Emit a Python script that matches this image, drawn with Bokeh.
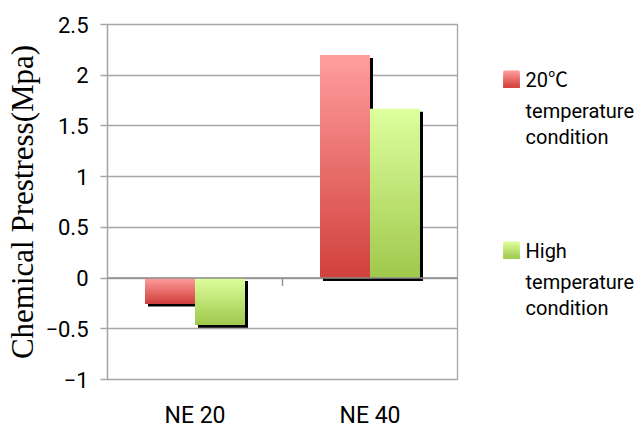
from bokeh.plotting import figure
from bokeh.layouts import row
from bokeh.models import ColumnDataSource, FixedTicker, Span
from bokeh.core.properties import value
from bokeh.embed import file_html
from bokeh.resources import INLINE

# --- data -------------------------------------------------------------
categories = ["NE 20", "NE 40"]
series_names = ["20℃\ntemperature\ncondition", "High\ntemperature\ncondition"]
prestress_20c = [-0.25, 2.2]
prestress_high = [-0.46, 1.67]
y_ticks = [-1, -0.5, 0, 0.5, 1, 1.5, 2, 2.5]
y_tick_labels = ["−1", "−0.5", "0", "0.5", "1", "1.5", "2", "2.5"]

# --- styling ----------------------------------------------------------
SANS = "Roboto, Noto Sans CJK JP, sans-serif"
SERIF = "Liberation Serif, DejaVu Serif, serif"
GRID = "#a6a6a6"
RED = ("#ff9e9e", "#d1403c")     # light top -> dark bottom
GREEN = ("#ddff9e", "#a0c84c")
LEFT, TOP, BOTTOM = 107, 24, 49
FRAME_W, FRAME_H = 350, 355
MAIN_W = LEFT + FRAME_W + 13
LEG_W = 643 - MAIN_W
BAR_W = 1 / 3.5                  # 150 % gap width
SHADOW_PX = 3
N_SLICES = 80

y_lo, y_hi = y_ticks[0], y_ticks[-1]
px_x = FRAME_W / len(categories)
px_y = FRAME_H / (y_hi - y_lo)


def lerp_hex(c0, c1, t):
    a = [int(c0[i:i + 2], 16) for i in (1, 3, 5)]
    b = [int(c1[i:i + 2], 16) for i in (1, 3, 5)]
    return "#%02x%02x%02x" % tuple(round(x + (y - x) * t) for x, y in zip(a, b))


def gradient_slices(left, right, top, bottom, colors, n):
    # each band runs from its own top down to the bar's bottom, drawn
    # light-to-dark so the later bands cover the lower part without seams
    out = dict(left=[], right=[], top=[], bottom=[], color=[])
    for j in range(n):
        out["left"].append(left)
        out["right"].append(right)
        out["top"].append(top - (top - bottom) * j / n)
        out["bottom"].append(bottom)
        out["color"].append(lerp_hex(colors[0], colors[1], (j + 0.5) / n))
    return out


p = figure(frame_width=FRAME_W, frame_height=FRAME_H,
           x_range=(0, len(categories)), y_range=(y_lo, y_hi),
           output_backend="svg", toolbar_location=None,
           min_border_left=LEFT, min_border_right=MAIN_W - LEFT - FRAME_W,
           min_border_top=TOP, min_border_bottom=BOTTOM)
p.background_fill_color = "white"
p.border_fill_color = "white"
p.outline_line_color = GRID
p.outline_line_width = 1.3

# zero line
p.add_layout(Span(location=0, dimension="width", line_color="#8c8c8c", line_width=1.5))

shadow = dict(left=[], right=[], top=[], bottom=[])
slices = dict(left=[], right=[], top=[], bottom=[], color=[])
for vals, cols, offset in ((prestress_20c, RED, -BAR_W),
                           (prestress_high, GREEN, 0.0)):
    for i, v in enumerate(vals):
        left = i + 0.5 + offset
        right = left + BAR_W
        top, bottom = max(v, 0), min(v, 0)
        shadow["left"].append(left + SHADOW_PX / px_x)
        shadow["right"].append(right + SHADOW_PX / px_x)
        shadow["top"].append(top - SHADOW_PX / px_y)
        shadow["bottom"].append(bottom - SHADOW_PX / px_y)
        g = gradient_slices(left, right, top, bottom, cols, N_SLICES)
        for k in slices:
            slices[k].extend(g[k])

p.quad(left="left", right="right", top="top", bottom="bottom",
       source=ColumnDataSource(shadow), fill_color="black", line_color=None)
p.quad(left="left", right="right", top="top", bottom="bottom",
       source=ColumnDataSource(slices), fill_color="color", line_color=None)

# separator tick between the categories, hanging below the zero line
sep = list(range(1, len(categories)))
p.segment(x0=sep, x1=sep, y0=[0] * len(sep), y1=[-8 / px_y] * len(sep),
          line_color="#8c8c8c", line_width=1.3)

# y axis
p.yaxis.ticker = FixedTicker(ticks=y_ticks)
p.yaxis.major_label_overrides = dict(zip(y_ticks, y_tick_labels))
p.yaxis.axis_line_color = GRID
p.yaxis.axis_line_width = 1.3
p.yaxis.major_tick_line_color = GRID
p.yaxis.major_tick_line_width = 1.3
p.yaxis.major_tick_out = 7
p.yaxis.major_tick_in = 0
p.yaxis.minor_tick_line_color = None
p.yaxis.major_label_text_font = SANS
p.yaxis.major_label_text_font_size = "22px"
p.yaxis.major_label_text_color = "black"
p.yaxis.major_label_standoff = 12
p.yaxis.axis_label = "Chemical Prestress(Mpa)"
p.yaxis.axis_label_text_font = SERIF
p.yaxis.axis_label_text_font_style = "normal"
p.yaxis.axis_label_text_font_size = "31px"
p.yaxis.axis_label_text_color = "black"
p.yaxis.axis_label_standoff = 2

p.ygrid.ticker = FixedTicker(ticks=y_ticks)
p.ygrid.grid_line_color = GRID
p.ygrid.grid_line_width = 1.3
p.xgrid.grid_line_color = None

# x axis: category names only
centers = [i + 0.5 for i in range(len(categories))]
p.xaxis.ticker = FixedTicker(ticks=centers)
p.xaxis.major_label_overrides = dict(zip(centers, categories))
p.xaxis.axis_line_color = None
p.xaxis.major_tick_line_color = None
p.xaxis.minor_tick_line_color = None
p.xaxis.major_label_text_font = SANS
p.xaxis.major_label_text_font_size = "23px"
p.xaxis.major_label_text_color = "black"
p.xaxis.major_label_standoff = 16

# legend panel: frame aligned with the plot frame, ranges in page pixels
leg = figure(frame_width=LEG_W, frame_height=FRAME_H,
             x_range=(MAIN_W, 643), y_range=(TOP + FRAME_H, TOP),
             output_backend="svg", toolbar_location=None,
             min_border_left=0, min_border_right=0,
             min_border_top=TOP, min_border_bottom=BOTTOM,
             outline_line_color=None)
leg.axis.visible = False
leg.grid.visible = False
leg.background_fill_color = "white"
leg.border_fill_color = "white"

legend_tops = [70, 241]
line_offsets = [9, 40, 66]
sq = dict(left=[], right=[], top=[], bottom=[], color=[])
for top, cols in zip(legend_tops, (RED, GREEN)):
    g = gradient_slices(503, 519, top, top + 17, cols, 16)
    for k in sq:
        sq[k].extend(g[k])
leg.quad(left="left", right="right", top="top", bottom="bottom",
         source=ColumnDataSource(sq), fill_color="color", line_color=None)

tx, ty, tt = [], [], []
for top, name in zip(legend_tops, series_names):
    for off, line in zip(line_offsets, name.split("\n")):
        tx.append(525)
        ty.append(top + off)
        tt.append(line)
leg.text(x=tx, y=ty, text=tt, text_font=value(SANS), text_font_size="20px",
         text_baseline="middle", text_align="left", text_color="black")

layout = row(p, leg, spacing=0)
open("out.html", "w").write(file_html(layout, INLINE))
